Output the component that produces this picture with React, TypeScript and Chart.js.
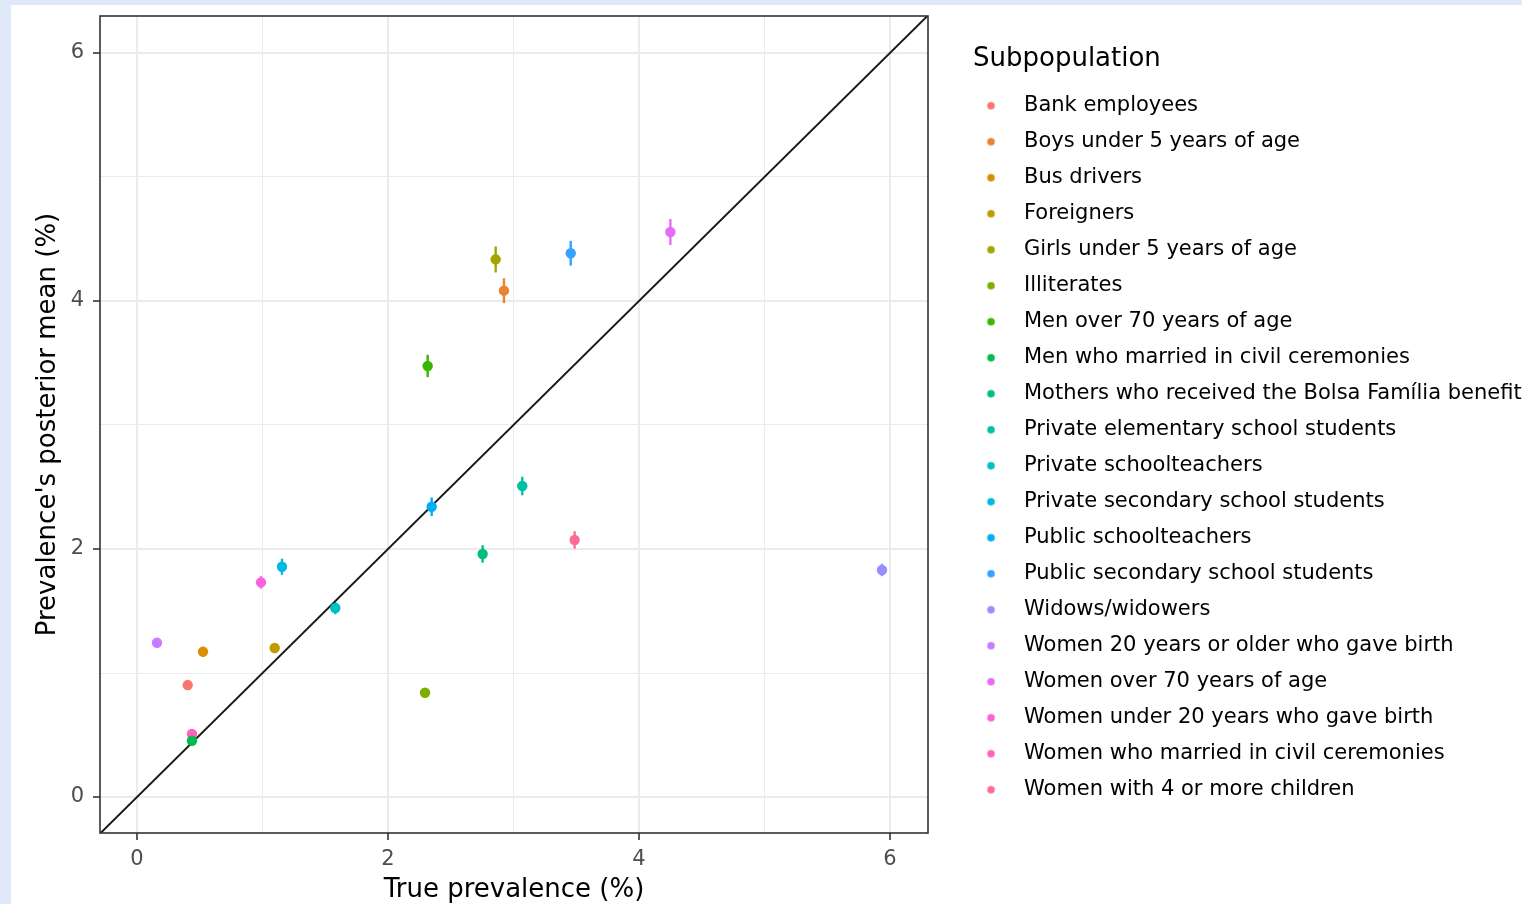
import React, { useEffect, useRef } from 'react';
import { Chart, registerables } from 'chart.js';

Chart.register(...registerables);

// ---- data ----
const subpopulations = [
  'Bank employees',
  'Boys under 5 years of age',
  'Bus drivers',
  'Foreigners',
  'Girls under 5 years of age',
  'Illiterates',
  'Men over 70 years of age',
  'Men who married in civil ceremonies',
  'Mothers who received the Bolsa Família benefit',
  'Private elementary school students',
  'Private schoolteachers',
  'Private secondary school students',
  'Public schoolteachers',
  'Public secondary school students',
  'Widows/widowers',
  'Women 20 years or older who gave birth',
  'Women over 70 years of age',
  'Women under 20 years who gave birth',
  'Women who married in civil ceremonies',
  'Women with 4 or more children',
];

const colors = [
  '#F8766D', '#EA8331', '#D89000', '#C09B00', '#A3A500',
  '#7CAE00', '#39B600', '#00BB4E', '#00BF7D', '#00C1A3',
  '#00BFC4', '#00BAE0', '#00B0F6', '#35A2FF', '#9590FF',
  '#C77CFF', '#E76BF3', '#FA62DB', '#FF62BC', '#FF6C91',
];

const trueValues = [
  0.404, 2.924, 0.526, 1.097, 2.858,
  2.295, 2.316, 0.438, 2.754, 3.07,
  1.58, 1.155, 2.348, 3.456, 5.936,
  0.159, 4.25, 0.988, 0.438, 3.487,
];

const posteriorMeans = [
  0.903, 4.083, 1.172, 1.202, 4.336,
  0.841, 3.476, 0.454, 1.96, 2.508,
  1.524, 1.857, 2.341, 4.385, 1.831,
  1.244, 4.556, 1.731, 0.508, 2.073,
];

const lowerBounds = [
  0.873, 3.983, 1.132, 1.162, 4.23,
  0.81, 3.386, 0.424, 1.89, 2.433,
  1.474, 1.792, 2.266, 4.285, 1.781,
  1.204, 4.451, 1.681, 0.478, 2.003,
];

const upperBounds = [
  0.933, 4.183, 1.212, 1.242, 4.44,
  0.87, 3.566, 0.484, 2.03, 2.583,
  1.574, 1.922, 2.416, 4.485, 1.881,
  1.284, 4.661, 1.781, 0.538, 2.143,
];

const majorTicks = [0, 2, 4, 6];
const gridValues = [0, 1, 2, 3, 4, 5, 6];
const xRange = [-0.2948, 6.3028];
const yRange = [-0.29, 6.298];
const diagonalLine = [-0.5, 6.6];

const FONT = "'DejaVu Sans', sans-serif";
const PAGE_BG = '#DFE9F9';

const isMajor = (v: number) => majorTicks.includes(v);

const errorBarPlugin = {
  id: 'errorBars',
  beforeDatasetsDraw(chart: any) {
    const { ctx, chartArea, scales } = chart;
    ctx.save();
    ctx.beginPath();
    ctx.rect(chartArea.left, chartArea.top, chartArea.right - chartArea.left, chartArea.bottom - chartArea.top);
    ctx.clip();
    ctx.lineWidth = 2.4;
    trueValues.forEach((tv, i) => {
      const x = scales.x.getPixelForValue(tv);
      ctx.strokeStyle = colors[i];
      ctx.beginPath();
      ctx.moveTo(x, scales.y.getPixelForValue(lowerBounds[i]));
      ctx.lineTo(x, scales.y.getPixelForValue(upperBounds[i]));
      ctx.stroke();
    });
    ctx.restore();
  },
};

const panelBorderPlugin = {
  id: 'panelBorder',
  afterDatasetsDraw(chart: any) {
    const { ctx, chartArea: a } = chart;
    ctx.save();
    ctx.strokeStyle = '#333333';
    ctx.lineWidth = 1.6;
    ctx.strokeRect(a.left, a.top, a.right - a.left, a.bottom - a.top);
    ctx.restore();
  },
};

function makeDot(color: string) {
  const c = document.createElement('canvas');
  c.width = 30;
  c.height = 10;
  const g = c.getContext('2d')!;
  g.fillStyle = color;
  g.beginPath();
  g.arc(5.25, 5, 3.8, 0, Math.PI * 2);
  g.fill();
  return c;
}

function gridOptions() {
  return {
    color: '#EBEBEB',
    lineWidth: (c: any) => (c.tick && isMajor(c.tick.value) ? 2 : 1),
    drawTicks: true,
    tickLength: 7,
    tickWidth: 1.6,
    tickColor: (c: any) => (c.tick && isMajor(c.tick.value) ? '#333333' : 'rgba(0,0,0,0)'),
  };
}

function clearPadding(s: any) {
  s.paddingTop = 0;
  s.paddingBottom = 0;
  s.paddingLeft = 0;
  s.paddingRight = 0;
}

export default function App() {
  const canvasRef = useRef<HTMLCanvasElement>(null);

  useEffect(() => {
    const canvas = canvasRef.current;
    if (!canvas) return;
    const dots = colors.map(makeDot);

    const datasets: any[] = subpopulations.map((name, i) => ({
      type: 'scatter',
      label: name,
      data: [{ x: trueValues[i], y: posteriorMeans[i] }],
      backgroundColor: colors[i],
      borderColor: colors[i],
      pointRadius: 5.2,
      pointHoverRadius: 5.2,
      pointBorderWidth: 0,
      order: 0,
    }));
    datasets.push({
      type: 'line',
      label: 'y = x',
      data: diagonalLine.map((v) => ({ x: v, y: v })),
      borderColor: '#1A1A1A',
      borderWidth: 2,
      pointRadius: 0,
      showLine: true,
      fill: false,
      order: 1,
    });

    const chart = new Chart(canvas, {
      type: 'scatter',
      data: { datasets },
      plugins: [errorBarPlugin, panelBorderPlugin],
      options: {
        animation: false,
        responsive: false,
        events: [],
        layout: { padding: { top: 11, right: 0, bottom: 0, left: 0 } },
        scales: {
          x: {
            type: 'linear',
            min: xRange[0],
            max: xRange[1],
            afterBuildTicks: (s: any) => {
              s.ticks = gridValues.map((v) => ({ value: v }));
            },
            afterFit: (s: any) => {
              s.height = 71;
              clearPadding(s);
            },
            grid: gridOptions(),
            border: { display: false },
            ticks: {
              autoSkip: false,
              maxRotation: 0,
              padding: 7,
              color: '#4D4D4D',
              font: { family: FONT, size: 21 },
              callback: (v: any) => (isMajor(Number(v)) ? String(v) : ''),
            },
            title: {
              display: true,
              text: 'True prevalence (%)',
              color: '#000000',
              font: { family: FONT, size: 26 },
              padding: { top: 0, bottom: -2 },
            },
          },
          y: {
            type: 'linear',
            min: yRange[0],
            max: yRange[1],
            afterBuildTicks: (s: any) => {
              s.ticks = gridValues.map((v) => ({ value: v }));
            },
            afterFit: (s: any) => {
              s.width = 89;
              clearPadding(s);
            },
            grid: gridOptions(),
            border: { display: false },
            ticks: {
              autoSkip: false,
              padding: 9,
              color: '#4D4D4D',
              font: { family: FONT, size: 21 },
              callback: (v: any) => (isMajor(Number(v)) ? String(v) : ''),
            },
            title: {
              display: true,
              text: "Prevalence's posterior mean (%)",
              color: '#000000',
              font: { family: FONT, size: 26 },
              padding: { top: 22, bottom: 0 },
            },
          },
          yPad: {
            axis: 'y',
            type: 'linear',
            position: 'right',
            display: true,
            grid: { display: false, drawTicks: false },
            ticks: { display: false },
            border: { display: false },
            afterFit: (s: any) => {
              s.width = 45;
              clearPadding(s);
            },
          },
        },
        plugins: {
          tooltip: { enabled: false },
          legend: {
            display: true,
            position: 'right',
            align: 'start',
            maxWidth: 549,
            title: {
              display: true,
              text: 'Subpopulation',
              position: 'start',
              color: '#000000',
              font: { family: FONT, size: 26 },
              padding: { top: 30, bottom: 3 },
            },
            labels: {
              usePointStyle: true,
              pointStyleWidth: 25.5,
              boxHeight: 8,
              padding: 15,
              color: '#000000',
              font: { family: FONT, size: 21 },
              generateLabels: (ch: any) => {
                const items = (Chart as any).defaults.plugins.legend.labels.generateLabels(ch);
                return items
                  .filter((it: any) => it.datasetIndex < subpopulations.length)
                  .map((it: any) => ({ ...it, pointStyle: dots[it.datasetIndex] }));
              },
            },
          },
        },
      } as any,
    });

    return () => chart.destroy();
  }, []);

  return (
    <div style={{ position: 'fixed', inset: 0, background: PAGE_BG, overflow: 'hidden' }}>
      <div
        style={{
          position: 'absolute',
          left: 11,
          top: 5,
          width: 1511,
          height: 899,
          background: '#FFFFFF',
        }}
      >
        <canvas ref={canvasRef} width={1511} height={899} style={{ display: 'block' }} />
      </div>
    </div>
  );
}
